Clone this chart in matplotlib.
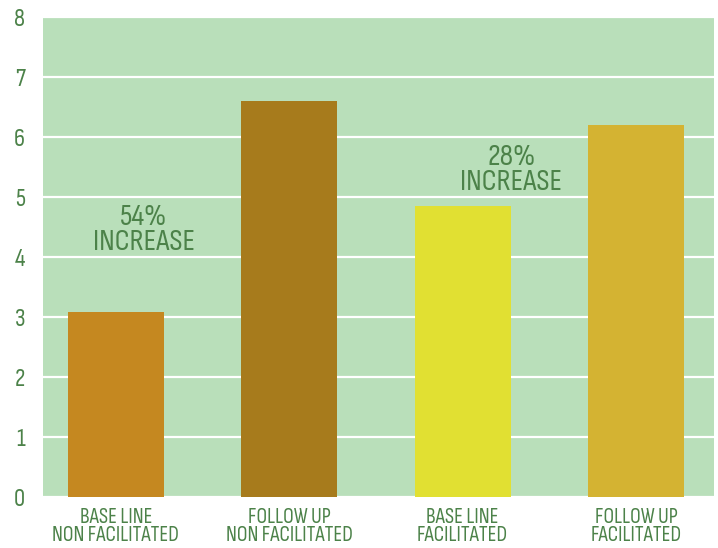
import matplotlib
matplotlib.use("Agg")
import matplotlib.pyplot as plt

categories = ["BASE LINE\nNON FACILITATED", "FOLLOW UP\nNON FACILITATED",
              "BASE LINE\nFACILITATED", "FOLLOW UP\nFACILITATED"]
values = [3.08, 6.6, 4.85, 6.2]
bar_colors = ["#C58820", "#A77B1C", "#E1E032", "#D4B332"]
yticks = [0, 1, 2, 3, 4, 5, 6, 7, 8]
annotations = ["54%\nINCREASE", "28%\nINCREASE"]
annot_pos = [(0.16, 4.45), (2.28, 5.45)]

plt.rcParams["font.family"] = ["Sofia Sans Condensed", "DejaVu Sans"]

green_text = "#4C8249"
bg = "#B9DFBA"

fig = plt.figure(figsize=(7.18, 5.48), dpi=100)
ax = fig.add_axes([0.0599, 0.0931, 0.9345, 0.8759])
ax.set_facecolor(bg)
x = list(range(len(values)))
ax.bar(x, values, width=0.553, color=bar_colors, zorder=3)
ax.set_xlim(-0.42, 3.45)
ax.set_ylim(0, 8)
ax.set_yticks(yticks)
ax.set_yticklabels([str(t) for t in yticks], fontsize=18, color=green_text)
ax.set_xticks(x)
ax.set_xticklabels(categories, fontsize=15.5, color=green_text, linespacing=0.95)
ax.tick_params(axis="both", length=0)
ax.tick_params(axis="y", pad=13)
ax.tick_params(axis="x", pad=8)
for s in ax.spines.values():
    s.set_visible(False)
ax.grid(axis="y", color="white", linewidth=1.6, zorder=1)
ax.set_axisbelow(True)
for txt, (px, py) in zip(annotations, annot_pos):
    ax.text(px, py, txt, ha="center", va="center", fontsize=22, color=green_text,
            linespacing=0.92, zorder=4)

fig.savefig("out.png", dpi=100)
